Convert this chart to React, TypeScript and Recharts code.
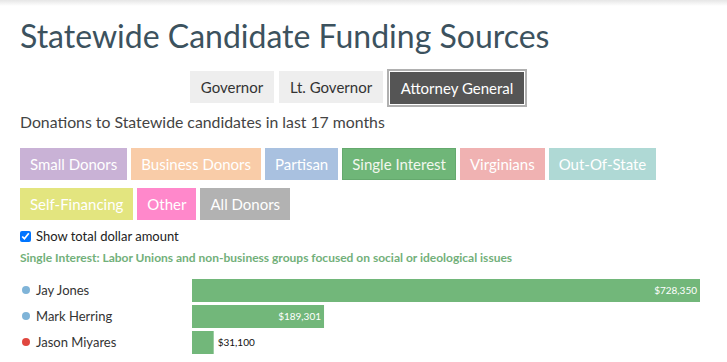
import React from 'react';
import { BarChart, Bar, XAxis, YAxis, LabelList } from 'recharts';

const candidates = ['Jay Jones', 'Mark Herring', 'Jason Miyares'];
const singleInterest = [728350, 189301, 31100];
const party = ['D', 'D', 'R'];

const offices = ['Governor', 'Lt. Governor', 'Attorney General'];
const sourceRow1 = ['Small Donors', 'Business Donors', 'Partisan', 'Single Interest', 'Virginians', 'Out-Of-State'];
const sourceRow2 = ['Self-Financing', 'Other', 'All Donors'];
const sourceColors: Record<string, string> = {
  'Small Donors': '#c9b2d6',
  'Business Donors': '#f9cca8',
  'Partisan': '#a9c1e0',
  'Single Interest': '#6fb678',
  'Virginians': '#f0b2b2',
  'Out-Of-State': '#afd9d5',
  'Self-Financing': '#e3e57f',
  'Other': '#ff88cb',
  'All Donors': '#b2b2b2',
};
const partyColor: Record<string, string> = { D: '#7fb4d8', R: '#e0473f' };

const data = candidates.map((name, i) => ({ name, value: singleInterest[i], party: party[i] }));

const font = 'Lato, "Open Sans", sans-serif';
const money = (v: number) => '$' + v.toLocaleString('en-US');

const NameTick = (props: any) => {
  const { y, payload, index } = props;
  const p = data[index] ? data[index].party : 'D';
  return (
    <g>
      <circle cx={26} cy={y} r={4} fill={partyColor[p]} />
      <text x={36} y={y} dy={4.5} fontSize={13} fill="#333" fontFamily={font}>{payload.value}</text>
    </g>
  );
};

const ValueLabel = (props: any) => {
  const { x, y, width, height, value } = props;
  const inside = width > 60;
  return (
    <text
      x={inside ? x + width - 3 : x + width + 4}
      y={y + height / 2}
      dy={3.5}
      textAnchor={inside ? 'end' : 'start'}
      fontSize={10}
      fontFamily={font}
      fill={inside ? '#fff' : '#111'}
    >
      {money(value)}
    </text>
  );
};

const boxStyle = (bg: string): React.CSSProperties => ({
  background: bg,
  color: '#fff',
  height: 32,
  lineHeight: '32px',
  padding: '0 10px',
  fontSize: 15,
  marginRight: 4,
  boxSizing: 'border-box',
  whiteSpace: 'nowrap',
});

export default function App() {
  return (
    <div style={{ position: 'absolute', left: 0, top: 0, width: 727, height: 362, background: '#fff', fontFamily: font, overflow: 'hidden' }}>
      <div style={{ position: 'absolute', left: 0, top: 0, width: 727, height: 6, background: 'linear-gradient(#e6e6e6, #fff)' }} />
      <div style={{ position: 'absolute', left: 20, top: 20, fontSize: 32, lineHeight: '32px', color: '#3c525e', whiteSpace: 'nowrap' }}>
        Statewide Candidate Funding Sources
      </div>
      <div style={{ position: 'absolute', left: 190, top: 71, height: 32, fontSize: 15, color: '#333' }}>
        <div style={{ position: 'absolute', left: 0, top: 0, width: 84, height: 32, lineHeight: '32px', background: '#eee', textAlign: 'center' }}>{offices[0]}</div>
        <div style={{ position: 'absolute', left: 89, top: 0, width: 104, height: 32, lineHeight: '32px', background: '#eee', textAlign: 'center' }}>{offices[1]}</div>
        <div style={{ position: 'absolute', left: 197, top: -2, width: 140, height: 38, boxSizing: 'border-box', border: '2px solid #b0b0b0', padding: 1, background: '#fff' }}>
          <div style={{ width: '100%', height: '100%', background: '#555', color: '#fff', textAlign: 'center', lineHeight: '32px' }}>{offices[2]}</div>
        </div>
      </div>
      <div style={{ position: 'absolute', left: 20, top: 112, fontSize: 15.8, lineHeight: '19px', color: '#444', whiteSpace: 'nowrap' }}>
        Donations to Statewide candidates in last 17 months
      </div>
      <div style={{ position: 'absolute', left: 20, top: 148, display: 'flex' }}>
        {sourceRow1.map((s) => (
          <div key={s} style={{ ...boxStyle(sourceColors[s]), boxShadow: s === 'Single Interest' ? 'inset 0 0 0 1px #65a96e' : 'none', color: s === 'Single Interest' ? '#f2f7ee' : '#fff' }}>{s}</div>
        ))}
      </div>
      <div style={{ position: 'absolute', left: 20, top: 188, display: 'flex' }}>
        {sourceRow2.map((s) => (
          <div key={s} style={boxStyle(sourceColors[s])}>{s}</div>
        ))}
      </div>
      <div style={{ position: 'absolute', left: 20, top: 228, display: 'flex', alignItems: 'center', fontSize: 13, color: '#222' }}>
        <input type="checkbox" defaultChecked style={{ margin: 0, width: 11, height: 11 }} />
        <span style={{ marginLeft: 5 }}>Show total dollar amount</span>
      </div>
      <div style={{ position: 'absolute', left: 20, top: 250, fontSize: 12, fontWeight: 700, color: '#72b07a', whiteSpace: 'nowrap' }}>
        Single Interest: Labor Unions and non-business groups focused on social or ideological issues
      </div>
      <div style={{ position: 'absolute', left: 0, top: 270 }}>
        <BarChart width={727} height={90} data={data} layout="vertical" margin={{ top: 7, right: 27, bottom: 5, left: 0 }}>
          <XAxis type="number" hide domain={[0, 'dataMax']} />
          <YAxis type="category" dataKey="name" width={192} axisLine={false} tickLine={false} tick={<NameTick />} interval={0} />
          <Bar dataKey="value" fill="#72b77a" barSize={23} isAnimationActive={false}>
            <LabelList dataKey="value" content={<ValueLabel />} />
          </Bar>
        </BarChart>
      </div>
    </div>
  );
}
